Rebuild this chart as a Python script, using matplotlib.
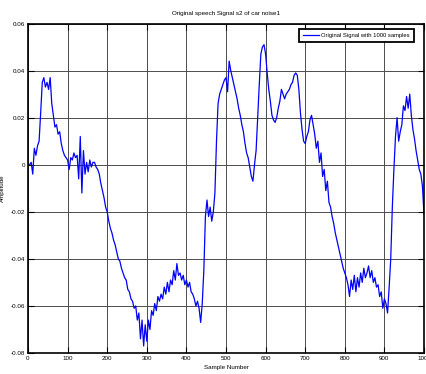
import matplotlib
matplotlib.use("Agg")
import matplotlib.pyplot as plt
from matplotlib.ticker import FuncFormatter
import numpy as np

plt.rcParams['font.family'] = ['Liberation Sans', 'DejaVu Sans']

# speech samples, read every 4th sample
step = 4
signal = [
    0.000, 0.000, 0.001, -0.004, 0.007, 0.004, 0.008, 0.010, 0.022, 0.035,
    0.037, 0.033, 0.035, 0.032, 0.037, 0.026, 0.021, 0.016, 0.017, 0.013,
    0.014, 0.009, 0.006, 0.004, 0.003, 0.002, -0.002, 0.003, 0.002, 0.005,
    0.003, 0.004, -0.006, 0.012, -0.012, 0.006, -0.004, 0.001, -0.003, 0.002,
    -0.001, 0.001, 0.001, -0.001, -0.002, -0.004, -0.008, -0.011, -0.014, -0.018,
    -0.020, -0.024, -0.027, -0.029, -0.032, -0.034, -0.037, -0.040, -0.041, -0.044,
    -0.046, -0.048, -0.049, -0.053, -0.054, -0.057, -0.058, -0.061, -0.060, -0.066,
    -0.063, -0.074, -0.066, -0.077, -0.068, -0.075, -0.066, -0.070, -0.062, -0.064,
    -0.059, -0.062, -0.056, -0.058, -0.055, -0.057, -0.052, -0.055, -0.050, -0.054,
    -0.049, -0.051, -0.045, -0.049, -0.042, -0.047, -0.046, -0.049, -0.047, -0.051,
    -0.049, -0.052, -0.050, -0.054, -0.055, -0.057, -0.060, -0.058, -0.061, -0.067,
    -0.059, -0.045, -0.022, -0.015, -0.022, -0.018, -0.024, -0.020, -0.012, 0.010,
    0.026, 0.030, 0.032, 0.034, 0.036, 0.037, 0.031, 0.044, 0.040, 0.037,
    0.034, 0.031, 0.028, 0.024, 0.021, 0.017, 0.014, 0.009, 0.005, 0.003,
    -0.001, -0.005, -0.007, 0.000, 0.006, 0.020, 0.034, 0.047, 0.050, 0.051,
    0.047, 0.039, 0.032, 0.027, 0.021, 0.019, 0.018, 0.020, 0.024, 0.027,
    0.032, 0.030, 0.028, 0.030, 0.031, 0.032, 0.034, 0.035, 0.038, 0.039,
    0.038, 0.032, 0.022, 0.015, 0.010, 0.009, 0.012, 0.014, 0.019, 0.021,
    0.017, 0.013, 0.007, 0.010, 0.001, 0.005, -0.005, -0.002, -0.011, -0.007,
    -0.016, -0.018, -0.022, -0.025, -0.029, -0.032, -0.035, -0.038, -0.041, -0.044,
    -0.046, -0.048, -0.051, -0.056, -0.049, -0.053, -0.047, -0.054, -0.048, -0.052,
    -0.046, -0.050, -0.044, -0.048, -0.046, -0.043, -0.048, -0.045, -0.050, -0.048,
    -0.052, -0.051, -0.056, -0.054, -0.061, -0.057, -0.059, -0.063, -0.052, -0.040,
    -0.018, -0.002, 0.012, 0.020, 0.010, 0.014, 0.017, 0.025, 0.023, 0.029,
    0.024, 0.030, 0.021, 0.015, 0.011, 0.006, 0.002, -0.002, -0.004, -0.009,
    -0.021,
]
samples = np.arange(len(signal)) * step

xticks = list(range(0, 1001, 100))
yticks = [-0.08, -0.06, -0.04, -0.02, 0, 0.02, 0.04, 0.06]

fig = plt.figure(figsize=(4.27, 3.74), dpi=100)
ax = fig.add_axes([28 / 427, 21 / 374, 396 / 427, 329.5 / 374])

ax.plot(samples, signal, color='#0000ff', linewidth=0.9,
        label='Original Signal with 1000 samples')

ax.set_xlim(0, 1000)
ax.set_ylim(-0.08, 0.06)
ax.set_xticks(xticks)
ax.set_yticks(yticks)
ax.yaxis.set_major_formatter(FuncFormatter(lambda v, p: '%g' % round(v, 2)))
ax.tick_params(direction='in', length=4, width=0.8, labelsize=4.5,
               top=True, right=True, pad=2)
ax.grid(True, color='0.3', linewidth=0.7)
for s in ax.spines.values():
    s.set_linewidth(1.2)

ax.set_title('Original speech Signal s2 of car noise1', fontsize=4.5, pad=6)
ax.set_xlabel('Sample Number', fontsize=4.5, labelpad=3)
ax.set_ylabel('Amplitude', fontsize=4.5, labelpad=4)

leg = ax.legend(loc='upper right', bbox_to_anchor=(0.975, 0.983),
                fontsize=4.2, fancybox=False, framealpha=1,
                edgecolor='black', handlelength=2.8, handletextpad=0.4,
                borderaxespad=0, borderpad=0.7)
leg.get_frame().set_linewidth(1.3)

fig.savefig('out.png', dpi=100)
